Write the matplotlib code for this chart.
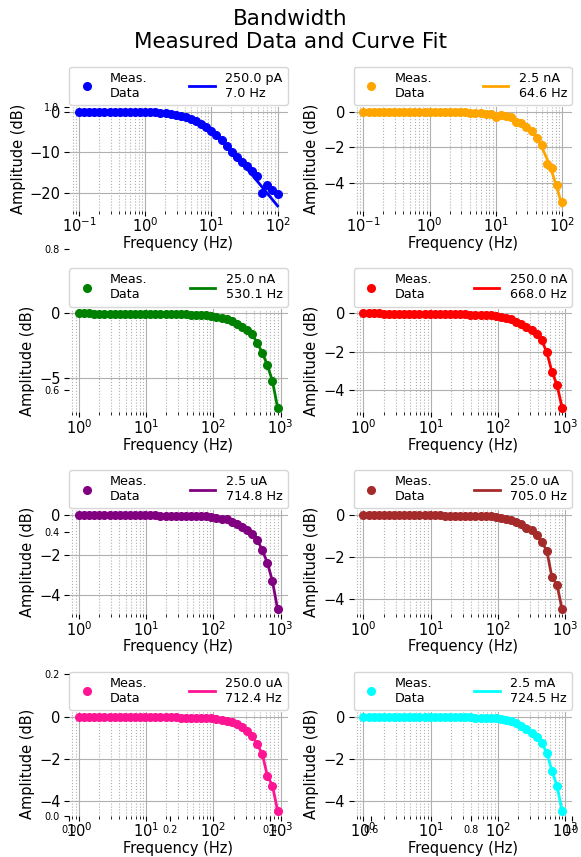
import matplotlib
matplotlib.use('Agg')
import matplotlib.pyplot as plt

# ---------------- data ----------------
freq_lo = [0.1, 0.1194, 0.1425, 0.1701, 0.2031, 0.2424, 0.2894, 0.3455, 0.4125, 0.4924,
           0.5878, 0.7017, 0.8377, 1.0, 1.194, 1.425, 1.701, 2.031, 2.424, 2.894,
           3.455, 4.125, 4.924, 5.878, 7.017, 8.377, 10.0, 11.94, 14.25, 17.01,
           20.31, 24.24, 28.94, 34.55, 41.25, 49.24, 58.78, 70.17, 83.77, 100.0]

freq_hi = [1.0, 1.191, 1.418, 1.688, 2.009, 2.392, 2.848, 3.390, 4.037, 4.806,
           5.722, 6.812, 8.110, 9.655, 11.50, 13.69, 16.29, 19.40, 23.10, 27.50,
           32.73, 38.97, 46.40, 55.24, 65.77, 78.30, 93.22, 111.0, 132.1, 157.3,
           187.3, 223.0, 265.5, 316.0, 376.3, 448.0, 533.3, 635.0, 755.9, 900.0]

data_250pA = [0.0, 0.0, 0.0, 0.0, 0.0, -0.01, -0.01, -0.01, -0.02, -0.02,
              -0.03, -0.04, -0.06, -0.09, -0.12, -0.17, -0.25, -0.35, -0.49, -0.68,
              -0.95, -1.29, -1.74, -2.3, -3.0, -3.85, -4.8, -5.8, -7.0, -8.3,
              -9.8, -11.0, -12.3, -13.4, -14.6, -15.7, -20.0, -17.9, -19.3, -20.2]
fit_250pA = [-0.001, -0.001, -0.002, -0.003, -0.004, -0.005, -0.007, -0.011, -0.015, -0.021,
             -0.031, -0.043, -0.062, -0.088, -0.125, -0.176, -0.249, -0.351, -0.492, -0.685,
             -0.947, -1.294, -1.746, -2.318, -3.021, -3.860, -4.830, -5.92, -7.11, -8.39,
             -9.74, -11.14, -12.57, -14.04, -15.53, -17.03, -18.54, -20.06, -21.59, -23.12]

data_2p5nA = [0.0, 0.0, 0.0, 0.0, 0.0, 0.0, 0.0, 0.0, 0.0, 0.0,
              0.0, 0.0, 0.0, -0.01, -0.01, -0.01, -0.02, -0.02, -0.03, -0.03,
              -0.04, -0.05, -0.06, -0.08, -0.1, -0.13, -0.3, -0.2, -0.22, -0.3,
              -0.58, -0.63, -0.85, -1.1, -1.48, -1.9, -2.92, -3.2, -4.13, -5.1]
fit_2p5nA = [0.0, 0.0, 0.0, 0.0, 0.0, 0.0, 0.0, 0.0, 0.0, 0.0,
             0.0, 0.0, 0.0, -0.001, -0.002, -0.002, -0.003, -0.004, -0.006, -0.009,
             -0.012, -0.018, -0.025, -0.036, -0.051, -0.072, -0.103, -0.146, -0.206, -0.291,
             -0.409, -0.573, -0.794, -1.093, -1.485, -1.990, -2.620, -3.384, -4.284, -5.310]

data_25nA = [0.0, 0.0, 0.0, -0.01, -0.01, -0.01, -0.01, -0.01, -0.02, -0.02,
             -0.02, -0.02, -0.03, -0.03, -0.03, -0.04, -0.04, -0.05, -0.05, -0.06,
             -0.07, -0.08, -0.09, -0.1, -0.12, -0.14, -0.18, -0.27, -0.37, -0.45,
             -0.63, -0.83, -1.09, -1.33, -1.64, -2.29, -3.07, -4.04, -5.29, -7.34]

data_250nA = [0.0, 0.0, 0.0, 0.0, -0.01, -0.01, -0.01, -0.01, -0.01, -0.01,
              -0.02, -0.02, -0.02, -0.02, -0.03, -0.03, -0.03, -0.04, -0.04, -0.05,
              -0.05, -0.06, -0.06, -0.07, -0.08, -0.09, -0.12, -0.17, -0.22, -0.32,
              -0.44, -0.56, -0.7, -0.85, -1.06, -1.41, -2.03, -3.05, -3.74, -4.93]

data_2p5uA = [0.0, 0.0, 0.0, 0.0, 0.0, 0.0, -0.01, -0.01, -0.01, -0.01,
              -0.01, -0.01, -0.02, -0.02, -0.02, -0.02, -0.03, -0.03, -0.03, -0.03,
              -0.04, -0.04, -0.05, -0.05, -0.06, -0.07, -0.08, -0.13, -0.18, -0.22,
              -0.34, -0.47, -0.6, -0.77, -0.97, -1.23, -1.77, -2.4, -3.33, -4.73]

data_25uA = [0.0, 0.0, 0.0, 0.0, 0.0, 0.0, -0.01, -0.01, -0.01, -0.01,
             -0.01, -0.01, -0.02, -0.02, -0.02, -0.02, -0.03, -0.03, -0.03, -0.03,
             -0.04, -0.04, -0.05, -0.05, -0.06, -0.07, -0.08, -0.14, -0.19, -0.24,
             -0.32, -0.45, -0.61, -0.73, -0.94, -1.29, -1.69, -2.95, -3.31, -4.48]

data_250uA = [0.0, 0.0, 0.0, 0.0, 0.0, 0.0, -0.01, -0.01, -0.01, -0.01,
              -0.01, -0.01, -0.02, -0.02, -0.02, -0.02, -0.03, -0.03, -0.03, -0.03,
              -0.04, -0.04, -0.05, -0.05, -0.06, -0.07, -0.08, -0.12, -0.16, -0.2,
              -0.24, -0.36, -0.5, -0.68, -0.92, -1.31, -1.77, -2.81, -3.27, -4.46]

data_2p5mA = [0.0, 0.0, 0.0, 0.0, 0.0, 0.0, -0.01, -0.01, -0.01, -0.01,
              -0.01, -0.01, -0.01, -0.02, -0.02, -0.02, -0.02, -0.02, -0.03, -0.03,
              -0.03, -0.03, -0.04, -0.04, -0.05, -0.05, -0.06, -0.1, -0.15, -0.2,
              -0.28, -0.44, -0.6, -0.78, -0.94, -1.25, -1.69, -2.56, -3.25, -4.44]

# curve fits for the higher ranges follow the measured points
fit_25nA = data_25nA
fit_250nA = data_250nA
fit_2p5uA = data_2p5uA
fit_25uA = data_25uA
fit_250uA = data_250uA
fit_2p5mA = data_2p5mA

ranges = ['250.0 pA', '2.5 nA', '25.0 nA', '250.0 nA', '2.5 uA', '25.0 uA', '250.0 uA', '2.5 mA']
cutoffs = [7.0, 64.6, 530.1, 668.0, 714.8, 705.0, 712.4, 724.5]
colors = ['#0000ff', '#ffa500', '#008000', '#ff0000', '#800080', '#a52a2a', '#ff1493', '#00ffff']
freqs = [freq_lo, freq_lo, freq_hi, freq_hi, freq_hi, freq_hi, freq_hi, freq_hi]
datas = [data_250pA, data_2p5nA, data_25nA, data_250nA, data_2p5uA, data_25uA, data_250uA, data_2p5mA]
fits = [fit_250pA, fit_2p5nA, fit_25nA, fit_250nA, fit_2p5uA, fit_25uA, fit_250uA, fit_2p5mA]

# ---------------- figure ----------------
fig, axs = plt.subplots(4, 2, figsize=(5.81, 8.57), dpi=100)
fig.subplots_adjust(left=0.1188, right=0.9845, top=0.8751, bottom=0.0484,
                    hspace=0.947, wspace=0.302)

for ax, f, d, fit, c, rng, fc in zip(axs.flat, freqs, datas, fits, colors, ranges, cutoffs):
    ax.plot(f, d, 'o', color=c, ms=5.5, label='Meas.\nData')
    ax.plot(f, fit, '-', color=c, lw=2, label=f'{rng}\n{fc:.1f} Hz')
    ax.set_xscale('log')
    ax.grid(True, which='major', color='#b0b0b0', lw=0.8)
    ax.grid(True, which='minor', color='#b0b0b0', ls=':', lw=0.8)
    for s in ax.spines.values():
        s.set_visible(False)
    ax.tick_params(axis='y', labelsize=10.5, pad=2.5)
    ax.tick_params(axis='x', which='both', labelsize=10.5, pad=0.8)
    ax.set_xlabel('Frequency (Hz)', fontsize=10.5, labelpad=0.5)
    ax.set_ylabel('Amplitude (dB)', fontsize=10.5, labelpad=3)
    ax.legend(bbox_to_anchor=(0, 1.02, 1, 0.2), loc='lower left', mode='expand',
              ncol=2, borderaxespad=0, fontsize=9.2)

bg = fig.add_subplot(111, frameon=False)
bg.tick_params(labelsize=7)

fig.suptitle('Bandwidth\nMeasured Data and Curve Fit', fontsize=15.5, y=0.99)
fig.savefig('out.png', dpi=100)
